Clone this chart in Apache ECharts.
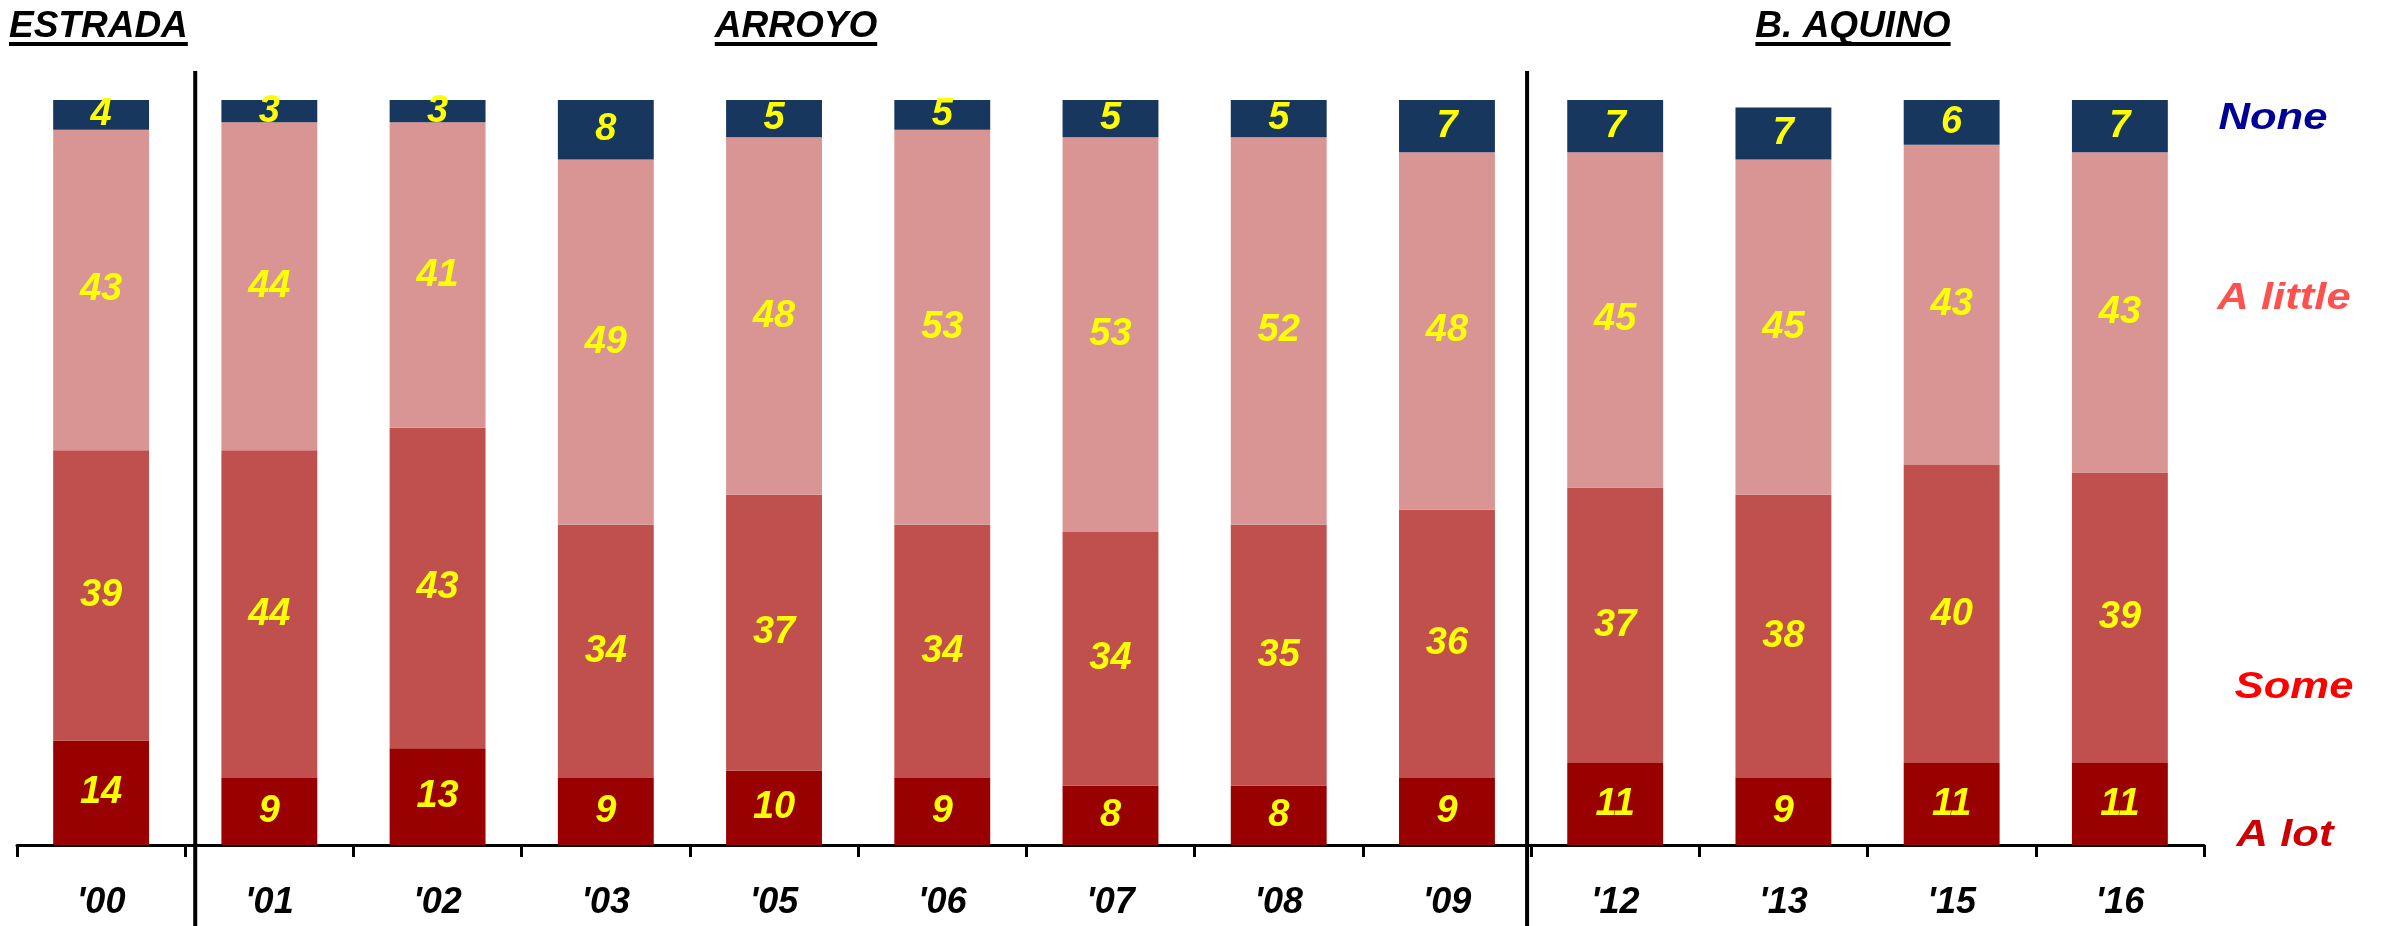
<!DOCTYPE html>
<html>
<head>
<meta charset="utf-8">
<script src="https://cdn.jsdelivr.net/npm/echarts@6/dist/echarts.min.js"></script>
<style>
  html, body { margin: 0; padding: 0; background: #fff; }
  #chart { width: 2381px; height: 926px; }
</style>
</head>
<body>
<div id="chart"></div>
<script>
// data
const years = ["'00", "'01", "'02", "'03", "'05", "'06", "'07", "'08", "'09", "'12", "'13", "'15", "'16"];
const aLot = [14, 9, 13, 9, 10, 9, 8, 8, 9, 11, 9, 11, 11];
const some = [39, 44, 43, 34, 37, 34, 34, 35, 36, 37, 38, 40, 39];
const aLittle = [43, 44, 41, 49, 48, 53, 53, 52, 48, 45, 45, 43, 43];
const none = [4, 3, 3, 8, 5, 5, 5, 5, 7, 7, 7, 6, 7];
const seriesNames = ['A lot', 'Some', 'A little', 'None'];
const presidents = ['ESTRADA', 'ARROYO', 'B. AQUINO'];

const FONT = '"Liberation Sans", Arial, sans-serif';
const barColors = ['#990000', '#C0504D', '#D99594', '#17375E'];
const nameColors = ['#CC0000', '#FF0000', '#FF5050', '#000099'];

let chart = echarts.init(document.getElementById('chart'));

const labelOpt = {
  show: true,
  position: 'inside',
  color: '#FFFF00',
  fontSize: 38,
  fontWeight: 'bold',
  fontStyle: 'italic',
  fontFamily: FONT
};

function makeSeries(name, data, i) {
  return {
    name: name,
    type: 'bar',
    stack: 'total',
    data: data,
    barWidth: '57%',
    itemStyle: { color: barColors[i] },
    label: labelOpt
  };
}

chart.setOption({
  animation: false,
  grid: { left: 17, right: 177, top: 100, bottom: 81 },
  xAxis: {
    type: 'category',
    data: years,
    axisLine: { lineStyle: { color: '#000', width: 3 } },
    axisTick: { show: true, length: 12, interval: 0, lineStyle: { color: '#000', width: 3 } },
    axisLabel: {
      interval: 0,
      margin: 40,
      color: '#000',
      fontSize: 36,
      fontWeight: 'bold',
      fontStyle: 'italic',
      fontFamily: FONT
    }
  },
  yAxis: { type: 'value', min: 0, max: 100, show: false, splitLine: { show: false } },
  series: [
    makeSeries(seriesNames[0], aLot, 0),
    makeSeries(seriesNames[1], some, 1),
    makeSeries(seriesNames[2], aLittle, 2),
    makeSeries(seriesNames[3], none, 3)
  ]
});

// decorations: group headers, dividers, series names on the right
let ctx = document.createElement('canvas').getContext('2d');
let headFont = 'italic bold 37px ' + FONT;
ctx.font = headFont;

let graphics = [];
let headCenters = [null, 796, 1853];
presidents.forEach((p, i) => {
  let w = ctx.measureText(p).width;
  let left = i === 0 ? 9 : headCenters[i] - w / 2;
  graphics.push({
    type: 'text', x: left, y: 27,
    style: { text: p, font: headFont, fill: '#000', align: 'left', verticalAlign: 'middle', textAlign: 'left', textVerticalAlign: 'middle' }
  });
  graphics.push({ type: 'rect', shape: { x: left, y: 42, width: w, height: 4 }, style: { fill: '#000' } });
});

// dividers between presidencies
let step = chart.convertToPixel({ xAxisIndex: 0 }, years[1]) - chart.convertToPixel({ xAxisIndex: 0 }, years[0]);
let b1 = chart.convertToPixel({ xAxisIndex: 0 }, years[0]) + step / 2 + 10;
let b2 = chart.convertToPixel({ xAxisIndex: 0 }, years[8]) + step / 2 - 4;
[b1, b2].forEach(x => {
  graphics.push({ type: 'rect', shape: { x: x - 2, y: 71, width: 4, height: 855 }, style: { fill: '#000' } });
});

// series names at right
let nameY = [836, 688, 299, 119];
let nameX = [2285, 2294, 2284, 2273];
seriesNames.forEach((n, i) => {
  graphics.push({
    type: 'text', x: nameX[i], y: nameY[i], scaleX: 1.18,
    style: {
      text: n, font: 'italic bold 37px ' + FONT, fill: nameColors[i],
      align: 'center', verticalAlign: 'middle', textAlign: 'center', textVerticalAlign: 'middle'
    }
  });
});

chart.setOption({ graphic: graphics });
</script>
</body>
</html>
